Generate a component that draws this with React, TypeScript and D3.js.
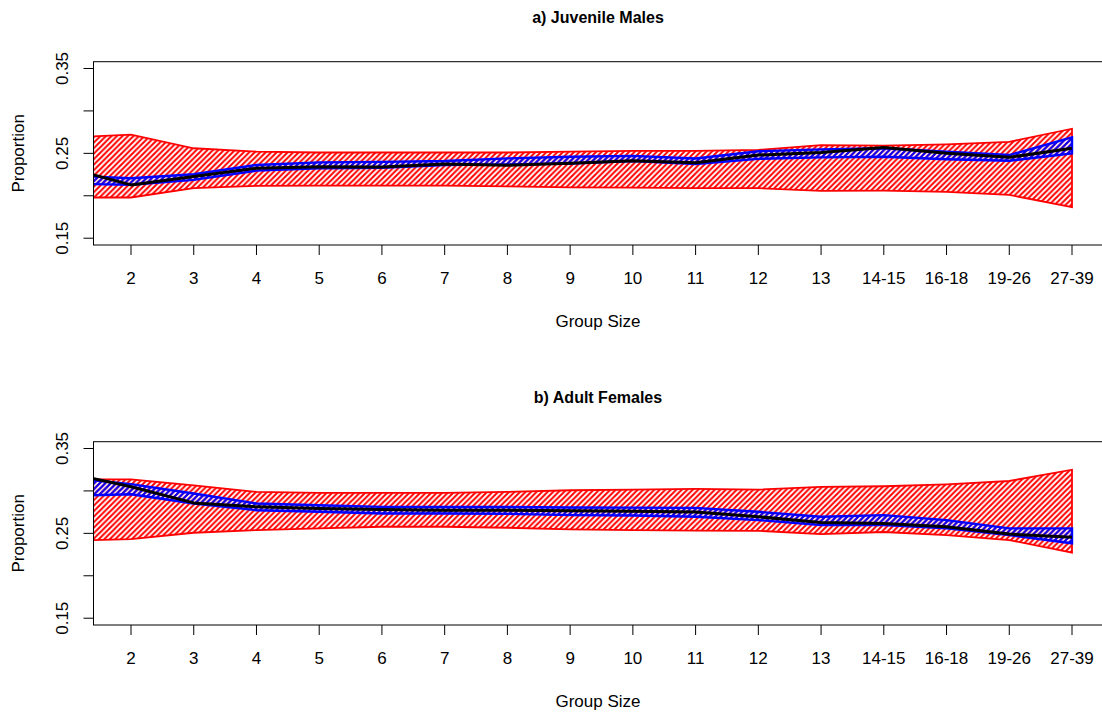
import React from "react";
import * as d3 from "d3";

const categories = ["1", "2", "3", "4", "5", "6", "7", "8", "9", "10", "11", "12", "13", "14-15", "16-18", "19-26", "27-39"];
const yTicks = [0.15, 0.2, 0.25, 0.3, 0.35];
const yTickLabels = [0.15, 0.25, 0.35];

// a) Juvenile Males
const jmObserved = [0.2325, 0.2128, 0.2226, 0.2324, 0.2343, 0.234, 0.2375, 0.236, 0.2383, 0.2413, 0.239, 0.248, 0.251, 0.257, 0.25, 0.2453, 0.2559];
const jmBlueUpper = [0.2238, 0.2207, 0.2254, 0.2363, 0.2394, 0.24, 0.241, 0.2441, 0.246, 0.247, 0.244, 0.2525, 0.2547, 0.256, 0.252, 0.248, 0.2688];
const jmBlueLower = [0.2143, 0.2128, 0.2187, 0.2296, 0.2324, 0.233, 0.2363, 0.237, 0.238, 0.241, 0.2375, 0.2435, 0.2453, 0.246, 0.243, 0.2413, 0.25];
const jmRedUpper = [0.2687, 0.272, 0.256, 0.252, 0.251, 0.251, 0.251, 0.251, 0.252, 0.253, 0.253, 0.254, 0.2597, 0.259, 0.2605, 0.2636, 0.279];
const jmRedLower = [0.198, 0.198, 0.209, 0.2117, 0.212, 0.212, 0.212, 0.211, 0.21, 0.2095, 0.209, 0.209, 0.2058, 0.206, 0.2046, 0.201, 0.1867];

// b) Adult Females
const afObserved = [0.3208, 0.305, 0.2859, 0.2812, 0.2793, 0.2781, 0.2773, 0.2773, 0.2765, 0.2761, 0.2753, 0.2695, 0.2629, 0.2617, 0.2578, 0.2492, 0.2453];
const afBlueUpper = [0.3155, 0.308, 0.2969, 0.2852, 0.2832, 0.2812, 0.281, 0.281, 0.2805, 0.2803, 0.28, 0.2754, 0.2695, 0.2715, 0.2656, 0.2559, 0.2559];
const afBlueLower = [0.2943, 0.296, 0.2852, 0.2773, 0.2754, 0.2734, 0.2734, 0.273, 0.2715, 0.271, 0.2695, 0.2656, 0.2597, 0.2597, 0.2559, 0.248, 0.2383];
const afRedUpper = [0.3137, 0.3137, 0.3066, 0.2988, 0.2976, 0.2976, 0.2976, 0.2988, 0.3008, 0.3016, 0.3023, 0.3016, 0.3047, 0.3055, 0.3078, 0.3117, 0.325];
const afRedLower = [0.2413, 0.2433, 0.2507, 0.2539, 0.2559, 0.2578, 0.2578, 0.2566, 0.2547, 0.2539, 0.2531, 0.253, 0.2492, 0.2516, 0.248, 0.2421, 0.2273];

const W = 1102;
const H = 715;
const FONT = "'Liberation Sans', Arial, Helvetica, sans-serif";

const plotLeft = 93.5;
const plotRight = 1103;
const plotH = 183.3;

const x = d3.scaleLinear().domain([1, 17]).range([68.27, 1072]);

type PanelProps = {
  id: string;
  top: number;
  title: string;
  observed: number[];
  blueUpper: number[];
  blueLower: number[];
  redUpper: number[];
  redLower: number[];
};

function Panel({ id, top, title, observed, blueUpper, blueLower, redUpper, redLower }: PanelProps) {
  const bottom = top + plotH;
  const y = d3.scaleLinear().domain([0.142, 0.358]).range([bottom, top]);
  const idx = categories.map((_, i) => i);
  const band = (up: number[], lo: number[]) =>
    d3
      .area<number>()
      .x((i) => x(i + 1))
      .y0((i) => y(lo[i]))
      .y1((i) => y(up[i]))(idx) || "";
  const line =
    d3
      .line<number>()
      .x((i) => x(i + 1))
      .y((i) => y(observed[i]))(idx) || "";
  const xTickIdx = idx.filter((i) => x(i + 1) >= plotLeft && x(i + 1) <= plotRight);
  return (
    <g>
      <defs>
        <clipPath id={`clip-${id}`}>
          <rect x={plotLeft} y={top} width={plotRight - plotLeft} height={plotH} />
        </clipPath>
      </defs>
      <text x={598} y={top - 39} textAnchor="middle" fontFamily={FONT} fontWeight="bold" fontSize={16}>
        {title}
      </text>
      <g clipPath={`url(#clip-${id})`}>
        <path d={band(redUpper, redLower)} fill="url(#hatchRed)" stroke="#ff0000" strokeWidth={1.8} />
        <path d={band(blueUpper, blueLower)} fill="url(#hatchBlue)" stroke="#0000ff" strokeWidth={2.4} />
        <path d={line} fill="none" stroke="#000" strokeWidth={3} strokeLinejoin="round" />
      </g>
      <rect x={plotLeft} y={top} width={plotRight - plotLeft} height={plotH} fill="none" stroke="#000" strokeWidth={1} />
      {yTicks.map((t) => (
        <line key={t} x1={plotLeft - 10} x2={plotLeft} y1={y(t)} y2={y(t)} stroke="#000" strokeWidth={1} />
      ))}
      {yTickLabels.map((t) => (
        <text
          key={t}
          transform={`translate(68,${y(t)}) rotate(-90)`}
          textAnchor="middle"
          fontFamily={FONT}
          fontSize={17}
        >
          {t.toFixed(2)}
        </text>
      ))}
      <text
        transform={`translate(24,${top + plotH / 2}) rotate(-90)`}
        textAnchor="middle"
        fontFamily={FONT}
        fontSize={17}
      >
        Proportion
      </text>
      {xTickIdx.map((i) => (
        <g key={i}>
          <line x1={x(i + 1)} x2={x(i + 1)} y1={bottom} y2={bottom + 10} stroke="#000" strokeWidth={1} />
          <text x={x(i + 1)} y={bottom + 39} textAnchor="middle" fontFamily={FONT} fontSize={17}>
            {categories[i]}
          </text>
        </g>
      ))}
      <text x={598} y={bottom + 82} textAnchor="middle" fontFamily={FONT} fontSize={17}>
        Group Size
      </text>
    </g>
  );
}

export default function App() {
  return (
    <svg
      width={W}
      height={H}
      style={{ position: "absolute", left: 0, top: 0, background: "#fff" }}
      xmlns="http://www.w3.org/2000/svg"
    >
      <defs>
        <pattern id="hatchRed" patternUnits="userSpaceOnUse" width={5.5} height={5.5}>
          <path d="M-1,1 l2,-2 M0,5.5 l5.5,-5.5 M4.5,6.5 l2,-2" stroke="#ff0000" strokeWidth={2} />
        </pattern>
        <pattern id="hatchBlue" patternUnits="userSpaceOnUse" width={5.5} height={5.5}>
          <path d="M-1,1 l2,-2 M0,5.5 l5.5,-5.5 M4.5,6.5 l2,-2" stroke="#0000ff" strokeWidth={2} />
        </pattern>
      </defs>
      <rect x={0} y={0} width={W} height={H} fill="#fff" />
      <Panel
        id="a"
        top={61.7}
        title="a) Juvenile Males"
        observed={jmObserved}
        blueUpper={jmBlueUpper}
        blueLower={jmBlueLower}
        redUpper={jmRedUpper}
        redLower={jmRedLower}
      />
      <Panel
        id="b"
        top={441.7}
        title="b) Adult Females"
        observed={afObserved}
        blueUpper={afBlueUpper}
        blueLower={afBlueLower}
        redUpper={afRedUpper}
        redLower={afRedLower}
      />
    </svg>
  );
}
